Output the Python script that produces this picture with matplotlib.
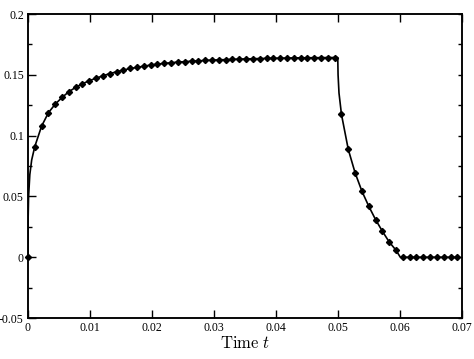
import numpy as np
import matplotlib
matplotlib.use("Agg")
import matplotlib.pyplot as plt
from matplotlib.ticker import MultipleLocator

plt.rcParams['mathtext.fontset'] = 'cm'
plt.rcParams['font.family'] = ['Liberation Serif', 'DejaVu Serif']

# marker samples (time step 0.0011)
marker_t = [0.0000, 0.0011, 0.0022, 0.0033, 0.0044, 0.0055, 0.0066, 0.0077,
            0.0088, 0.0099, 0.0110, 0.0121, 0.0132, 0.0143, 0.0154, 0.0165,
            0.0176, 0.0187, 0.0198, 0.0209, 0.0220, 0.0231, 0.0242, 0.0253,
            0.0264, 0.0275, 0.0286, 0.0297, 0.0308, 0.0319, 0.0330, 0.0341,
            0.0352, 0.0363, 0.0374, 0.0385, 0.0396, 0.0407, 0.0418, 0.0429,
            0.0440, 0.0451, 0.0462, 0.0473, 0.0484, 0.0495, 0.0506, 0.0517,
            0.0528, 0.0539, 0.0550, 0.0561, 0.0572, 0.0583, 0.0594, 0.0605,
            0.0616, 0.0627, 0.0638, 0.0649, 0.0660, 0.0671, 0.0682, 0.0693]
marker_y = [0.0000, 0.0910, 0.1078, 0.1188, 0.1259, 0.1314, 0.1361, 0.1397,
            0.1426, 0.1452, 0.1472, 0.1492, 0.1510, 0.1525, 0.1539, 0.1552,
            0.1561, 0.1571, 0.1580, 0.1588, 0.1594, 0.1599, 0.1605, 0.1608,
            0.1612, 0.1615, 0.1618, 0.1621, 0.1623, 0.1625, 0.1627, 0.1629,
            0.1631, 0.1632, 0.1634, 0.1635, 0.1636, 0.1637, 0.1638, 0.1639,
            0.1640, 0.1640, 0.1641, 0.1641, 0.1642, 0.1642, 0.1174, 0.0886,
            0.0694, 0.0543, 0.0420, 0.0310, 0.0214, 0.0126, 0.0058, 0.0000,
            0.0000, 0.0000, 0.0000, 0.0000, 0.0000, 0.0000, 0.0000, 0.0000]

# extra points of the finely resolved solid curve
extra_t = [0.00002, 0.0001, 0.0003, 0.0006, 0.0500, 0.05005, 0.0502, 0.0601]
extra_y = [0.0300, 0.0500, 0.0680, 0.0800, 0.1642, 0.1500, 0.1350, 0.0000]

xticks = [0, 0.01, 0.02, 0.03, 0.04, 0.05, 0.06, 0.07]
xticklabels = ["0", "0.01", "0.02", "0.03", "0.04", "0.05", "0.06", "0.07"]
yticks = [-0.05, 0, 0.05, 0.1, 0.15, 0.2]
yticklabels = ["-0.05", "0", "0.05", "0.1", "0.15", "0.2"]

line_t = np.array(marker_t + extra_t)
line_y = np.array(marker_y + extra_y)
order = np.argsort(line_t, kind="stable")
line_t = line_t[order]
line_y = line_y[order]

fig = plt.figure(figsize=(4.74, 3.59), dpi=100)
ax = fig.add_axes([0.059, 0.114, 0.915, 0.847])

ax.plot(line_t, line_y, color='black', lw=1.2, zorder=3)
ax.plot(marker_t, marker_y, linestyle='none', marker='D', ms=3.1,
        color='black', zorder=4, clip_on=False)

ax.set_xlim(0, 0.07)
ax.set_ylim(-0.05, 0.2)
ax.set_xticks(xticks)
ax.set_xticklabels(xticklabels)
ax.set_yticks(yticks)
ax.set_yticklabels(yticklabels)
ax.yaxis.set_minor_locator(MultipleLocator(0.025))

ax.tick_params(axis='both', which='major', direction='in', length=6, width=1.0,
               labelsize=8.5, top=True, right=False, pad=3)
ax.tick_params(axis='y', which='minor', direction='in', length=3, width=1.0,
               left=True, right=False)
for sp in ax.spines.values():
    sp.set_linewidth(1.1)

# right side: short ticks at every 0.025
ax2 = ax.twinx()
ax2.set_ylim(-0.05, 0.2)
ax2.yaxis.set_major_locator(MultipleLocator(0.025))
ax2.tick_params(axis='y', which='major', direction='in', length=3, width=1.0,
                labelright=False, right=True)
ax2.yaxis.set_minor_locator(plt.NullLocator())
for sp in ax2.spines.values():
    sp.set_linewidth(1.1)

ax.set_xlabel(r"$\mathrm{Time}\ t$", fontsize=12, labelpad=1)

fig.savefig("out.png", dpi=100)
